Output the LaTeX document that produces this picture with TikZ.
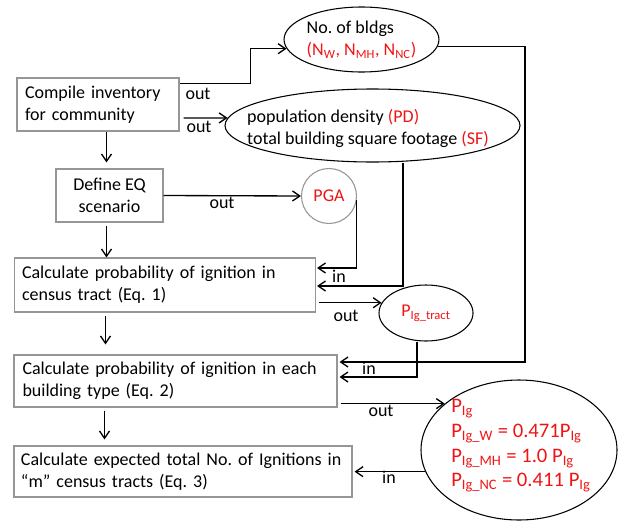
\documentclass[tikz,border=0pt]{standalone}
\usepackage{fontspec}
\setmainfont{Carlito}
\usepackage{tikz}
\usetikzlibrary{positioning,arrows.meta,calc,shapes.geometric}
\definecolor{boxgray}{RGB}{150,150,150}
\definecolor{outred}{RGB}{240,20,20}
\frenchspacing

\begin{document}
\begin{tikzpicture}[x=0.75pt, y=-0.75pt, every node/.style={font=\fontsize{13.5}{16.5}\selectfont}]
  \tikzset{
      stepbox/.style={draw=boxgray, line width=0.8pt, inner sep=0pt, align=left},
      oval/.style={ellipse, draw, line width=0.8pt, inner sep=0pt, align=left},
      arr/.style={-{Straight Barb[length=5.5pt,width=7.5pt]}, line width=1pt},
      lbl/.style={inner sep=0pt}
  }
  \useasboundingbox (0,0) rectangle (620,521);

  % process boxes
  \node[stepbox, minimum width=121.5pt, minimum height=39.75pt, text width=109.5pt] (compile) at (98,104.5) {Compile inventory\\for community};
  \node[stepbox, align=center, minimum width=80.25pt, minimum height=39.75pt] (define) at (109.5,195.5) {Define EQ\\scenario};
  \node[stepbox, minimum width=225.75pt, minimum height=40.5pt, text width=214.5pt] (calc1) at (165,285) {Calculate probability of ignition in\\census tract (Eq. 1)};
  \node[stepbox, minimum width=242.25pt, minimum height=39pt, text width=229.5pt] (calc2) at (175.5,381) {Calculate probability of ignition in each\\building type (Eq. 2)};
  \node[stepbox, minimum width=253.5pt, minimum height=38.25pt, text width=243pt] (calc3) at (183,471.5) {Calculate expected total No. of Ignitions in\\“m” census tracts (Eq. 3)};

  % outputs
  \node[oval, minimum width=113.25pt, minimum height=48.75pt] (bldgs) at (361.5,39.5) {No. of bldgs\\\textcolor{outred}{(N\textsubscript{W}, N\textsubscript{MH}, N\textsubscript{NC})}};
  \node[oval, minimum width=221.25pt, minimum height=54.75pt] (popsf) at (372.5,125.5) {};
  \node[lbl, align=left] (popsftxt) at (368,128) {population density \textcolor{outred}{(PD)}\\total building square footage \textcolor{outred}{(SF)}};
  \node[oval, draw=boxgray, minimum size=41.25pt, text=outred] (pga) at (329,196) {PGA};
  \node[oval, minimum width=70.5pt, minimum height=42pt, text=outred] (tract) at (426,313) {P\textsubscript{Ig\_tract}};
  \node[oval, minimum width=147pt, minimum height=105pt] (pig) at (519,450) {};
  \node[lbl, anchor=west, align=left, text=outred, font=\fontsize{15.5}{18.5}\selectfont] (pigtxt) at (451,446) {P\textsubscript{Ig}\\P\textsubscript{Ig\_W} = 0.471P\textsubscript{Ig}\\P\textsubscript{Ig\_MH} = 1.0 P\textsubscript{Ig}\\P\textsubscript{Ig\_NC} = 0.411 P\textsubscript{Ig}};

  % in / out labels
  \node[lbl] (outa) at (198,94) {out};
  \node[lbl] (outb) at (199,127) {out};
  \node[lbl] (outc) at (222,203) {out};
  \node[lbl] (ina) at (339,276) {in};
  \node[lbl] (outd) at (346,316) {out};
  \node[lbl] (inb) at (369,368) {in};
  \node[lbl] (oute) at (381,411) {out};
  \node[lbl] (inc) at (389,477) {in};

  % main flow
  \draw[arr] ($(compile.south -| define.north)+(-3,0)$) -- ($(define.north)+(-3,-6)$);
  \draw[arr] ($(define.south)+(-3,3)$) -- ($(define.south |- calc1.north)+(-3,0)$);
  \draw[arr] ($(calc1.south -| define.south)+(-4,3)$) -- ($(calc2.north -| define.south)+(-4,-10)$);
  \draw[arr] ($(calc2.south -| define.south)+(-5,3)$) -- ($(calc3.north -| define.south)+(-5,-6)$);

  % out arrows
  \draw[arr] ([yshift=-4.5pt]compile.north east) -| ($(bldgs.187)+(-36,0)$) -- (bldgs.187);
  \draw[arr] ($(compile.east)+(4,13.5)$) -- (popsf.177);
  \draw[arr] (define.east) -- (pga.west);
  \draw[arr] ($(calc1.east |- tract.167)+(3,0)$) -- (tract.167);
  \draw[arr] ($(calc2.east |- pig.148)+(3,0)$) -- (pig.148);

  % in arrows
  \coordinate (rail) at (525,362);
  \draw[arr] (pga.-8) |- ($(calc1.east)+(1,-17)$);
  \draw[arr] ($(popsf.south)+(30.5,0)$) |- ($(calc1.east)+(1,1)$);
  \draw[arr] (bldgs.-5) -| (rail) -- ($(calc2.east)+(2,-19)$);
  \draw[arr] ($(tract.south)+(-9,0)$) |- ($(calc2.east)+(2,-4)$);
  \draw[arr] (pig.193) -- ($(calc3.east |- pig.193)+(2,0)$);
\end{tikzpicture}
\end{document}
